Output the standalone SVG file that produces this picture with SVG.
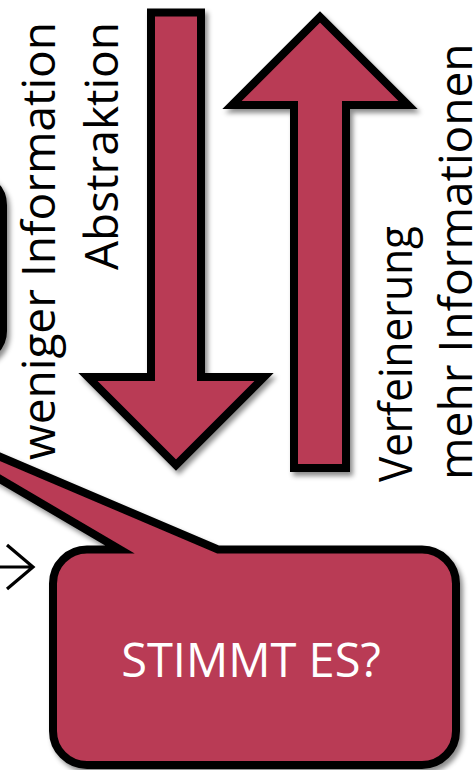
<svg xmlns="http://www.w3.org/2000/svg" width="476" height="770" viewBox="0 0 476 770">
<style>
.shape{fill:#B93A55;stroke:#000;stroke-width:8;stroke-linejoin:miter;stroke-miterlimit:10;filter:url(#sh)}
.lbl{font-family:"Open Sans","Noto Sans",sans-serif;font-size:46px;fill:#000}
.big{font-family:"Open Sans","Noto Sans",sans-serif;font-size:47px;fill:#fff}
.conn{fill:none;stroke:#000;stroke-width:3.2}
</style>
<defs>
<filter id="sh" x="-20%" y="-20%" width="140%" height="140%">
<feDropShadow dx="3" dy="4" stdDeviation="2.5" flood-color="#000" flood-opacity="0.45"/>
</filter>
</defs>
<rect width="476" height="770" fill="#fff"/>
<g id="left-box">
<rect x="-60" y="177" width="63" height="182" rx="28" fill="#fff" stroke="#000" stroke-width="8" filter="url(#sh)"/>
</g>
<g id="arrow-down">
<path class="shape" d="M151,12.5 H201 V377 H264 L176,465 L88,377 H151 Z"/>
</g>
<g id="arrow-up">
<path class="shape" d="M294,468 V105 H232 L320,17 L408,105 H346 V468 Z"/>
</g>
<g id="labels">
<text class="lbl" text-anchor="end" transform="translate(55,22) rotate(-90)">weniger Information</text>
<text class="lbl" text-anchor="end" transform="translate(118,22) rotate(-90)">Abstraktion</text>
<text class="lbl" text-anchor="start" textLength="256" lengthAdjust="spacingAndGlyphs" transform="translate(412,482) rotate(-90)">Verfeinerung</text>
<text class="lbl" text-anchor="start" transform="translate(472,480) rotate(-90)">mehr Informationen</text>
</g>
<g id="connectors">
<path class="conn" d="M0,567 H33 M7,545 L33,567 L7,589"/>
</g>
<g id="bubble">
<path class="shape" d="M218,549.5 H422 A34,34 0 0 1 456,583.5 V731 A34,34 0 0 1 422,765 H87 A34,34 0 0 1 53,731 V583.5 A34,34 0 0 1 87,549.5 H120 L-138,398 Z"/>
<text class="big" x="251" y="677" text-anchor="middle">STIMMT ES?</text>
</g>
</svg>
